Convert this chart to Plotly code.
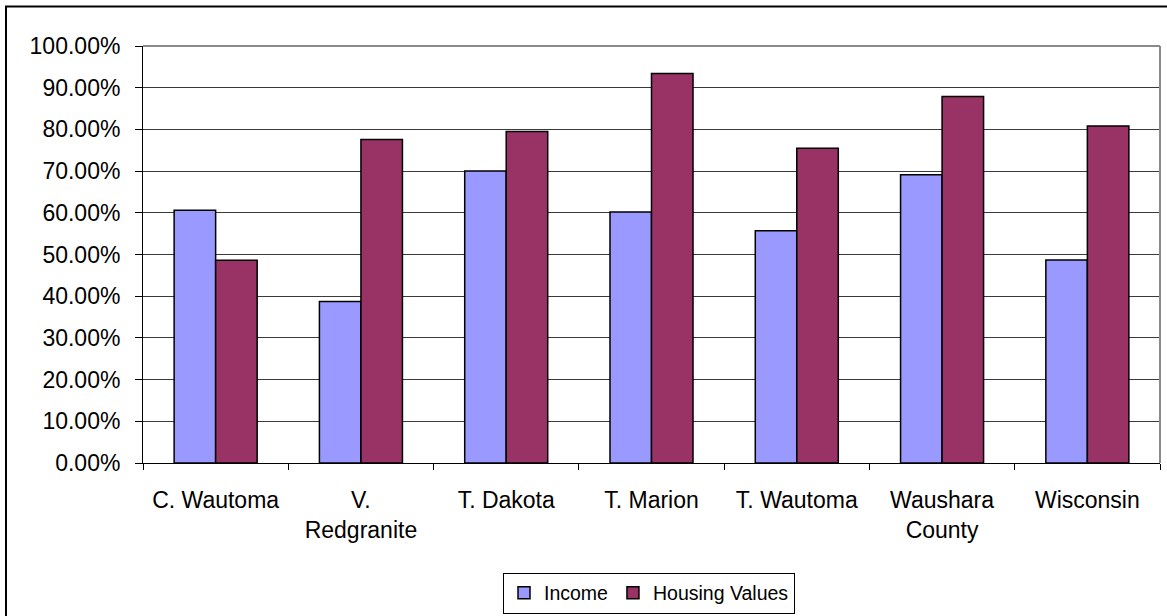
import plotly.graph_objects as go

categories = ["C. Wautoma", "V.<br>Redgranite", "T. Dakota", "T. Marion",
              "T. Wautoma", "Waushara<br>County", "Wisconsin"]
income = [0.606, 0.387, 0.700, 0.602, 0.557, 0.691, 0.487]
housing_values = [0.486, 0.776, 0.795, 0.934, 0.755, 0.879, 0.808]
y_ticks = [0.0, 0.1, 0.2, 0.3, 0.4, 0.5, 0.6, 0.7, 0.8, 0.9, 1.0]

FONT = "Liberation Sans, Arial, sans-serif"

fig = go.Figure()
fig.add_trace(go.Bar(x=categories, y=income, name="Income",
                     marker=dict(color="#9999FF", line=dict(color="black", width=1.5))))
fig.add_trace(go.Bar(x=categories, y=housing_values, name="Housing Values",
                     marker=dict(color="#993366", line=dict(color="black", width=1.5))))

W, H = 1167, 616
L, R, T, B = 143, 7, 46, 153
pw, ph = W - L - R, H - T - B

def px_x(x):
    return (x - L) / pw

def px_y(y):
    return (H - B - y) / ph

fig.update_layout(
    width=W, height=H,
    margin=dict(l=L, r=R, t=T, b=B, autoexpand=False),
    paper_bgcolor="white", plot_bgcolor="white",
    font=dict(family=FONT, color="black", size=23),
    barmode="group", bargap=0.4286, bargroupgap=0,
    showlegend=True,
    legend=dict(orientation="h", xref="container", yref="container",
                x=649 / W, y=(H - 593) / H, xanchor="center", yanchor="middle",
                bordercolor="black", borderwidth=1, bgcolor="white",
                font=dict(size=19.5, family=FONT, color="black"),
                itemwidth=30, tracegroupgap=0),
    xaxis=dict(showline=True, linecolor="black", linewidth=1,
               ticks="outside", tickson="boundaries", ticklen=6, tickcolor="black",
               showgrid=False, tickfont=dict(size=23), ticklabelstandoff=16),
    yaxis=dict(range=[0, 1], tickvals=y_ticks, tickformat=".2%",
               showline=True, linecolor="black", linewidth=1,
               ticks="outside", ticklen=7, tickcolor="black",
               showgrid=True, gridcolor="#3a3a3a", gridwidth=1,
               zeroline=False, tickfont=dict(size=23), ticklabelstandoff=10),
    shapes=[
        dict(type="line", xref="paper", yref="paper", x0=0, x1=1, y0=1, y1=1,
             line=dict(color="#8a8a8a", width=2), layer="above"),
        dict(type="line", xref="paper", yref="paper", x0=1, x1=1, y0=0, y1=1,
             line=dict(color="#8a8a8a", width=2), layer="above"),
        dict(type="rect", xref="paper", yref="paper",
             x0=px_x(6), x1=px_x(1175), y0=px_y(625), y1=px_y(6.5),
             line=dict(color="black", width=2), layer="above"),
    ],
)

fig.write_html("out.html", config={"displayModeBar": False},
               post_script="document.body.style.margin='0';document.body.style.overflow='hidden';")
